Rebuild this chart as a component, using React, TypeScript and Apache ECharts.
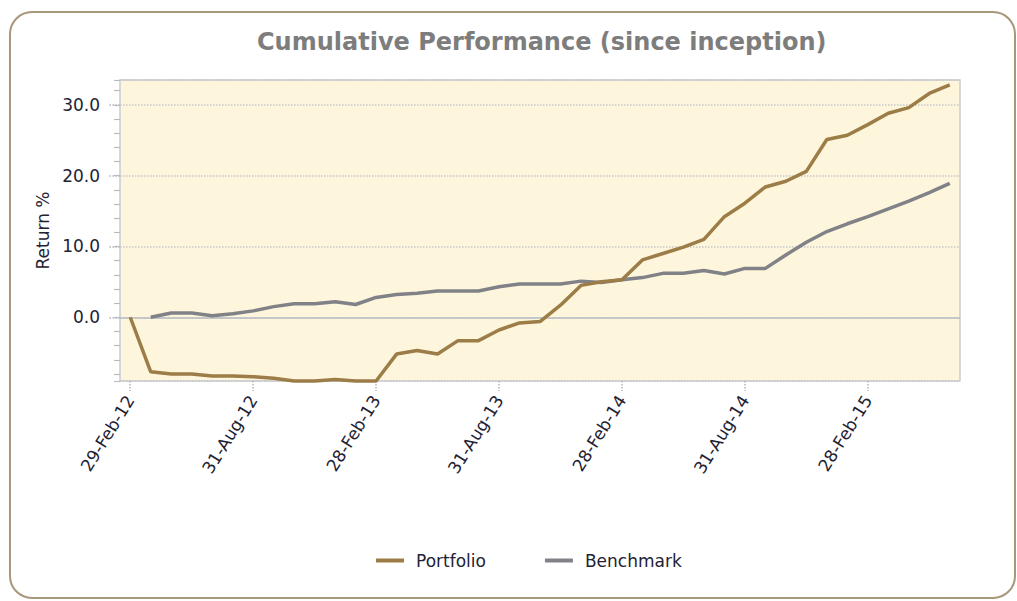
import React, { useEffect, useRef } from "react";
import * as echarts from "echarts";

const categories = [
  "29-Feb-12", "31-Mar-12", "30-Apr-12", "31-May-12", "30-Jun-12", "31-Jul-12", "31-Aug-12",
  "30-Sep-12", "31-Oct-12", "30-Nov-12", "31-Dec-12", "31-Jan-13", "28-Feb-13", "31-Mar-13",
  "30-Apr-13", "31-May-13", "30-Jun-13", "31-Jul-13", "31-Aug-13", "30-Sep-13", "31-Oct-13",
  "30-Nov-13", "31-Dec-13", "31-Jan-14", "28-Feb-14", "31-Mar-14", "30-Apr-14", "31-May-14",
  "30-Jun-14", "31-Jul-14", "31-Aug-14", "30-Sep-14", "31-Oct-14", "30-Nov-14", "31-Dec-14",
  "31-Jan-15", "28-Feb-15", "31-Mar-15", "30-Apr-15", "31-May-15", "30-Jun-15",
];

const portfolio = [
  0, -7.7, -8.0, -8.0, -8.3, -8.3, -8.4, -8.6, -9.0, -9.0, -8.8, -9.0, -9.0, -5.2, -4.7,
  -5.2, -3.3, -3.3, -1.8, -0.8, -0.6, 1.7, 4.5, 5.0, 5.3, 8.1, 9.0, 9.9, 11.0, 14.2, 16.1,
  18.4, 19.2, 20.6, 25.1, 25.7, 27.2, 28.8, 29.6, 31.6, 32.8,
];

const benchmark = [
  null, 0.0, 0.6, 0.6, 0.2, 0.5, 0.9, 1.5, 1.9, 1.9, 2.2, 1.8, 2.8, 3.2, 3.4, 3.7, 3.7,
  3.7, 4.3, 4.7, 4.7, 4.7, 5.1, 4.9, 5.3, 5.6, 6.2, 6.2, 6.6, 6.1, 6.9, 6.9, 8.8, 10.6,
  12.1, 13.2, 14.2, 15.3, 16.4, 17.6, 18.9,
];

const seriesNames = ["Portfolio", "Benchmark"];
const zeroLine = [0];
const yMin = -9;
const yMax = 33.5;

const FONT = "DejaVu Sans";
const LABEL_COLOR = "#222233";

export default function App() {
  const ref = useRef<HTMLDivElement>(null);

  useEffect(() => {
    if (!ref.current) return;
    const chart = echarts.init(ref.current, null, { renderer: "svg" });
    const option: any = {
      animation: false,
      backgroundColor: "#ffffff",
      title: {
        text: "Cumulative Performance (since inception)",
        left: 252,
        top: 25,
        textStyle: { fontFamily: FONT, fontSize: 24, fontWeight: "bold", color: "#7d7d7d" },
      },
      graphic: [
        {
          type: "rect",
          shape: { x: 10, y: 12, width: 1005, height: 586, r: 22 },
          style: { fill: "none", stroke: "#a8977a", lineWidth: 2 },
          silent: true,
          z: -1,
        },
      ],
      legend: {
        data: seriesNames,
        left: 371,
        top: 547,
        icon: "rect",
        itemWidth: 28,
        itemHeight: 4,
        itemGap: 59,
        textStyle: { fontFamily: FONT, fontSize: 17, color: LABEL_COLOR, padding: [0, 0, 0, 7] },
      },
      grid: {
        left: 120,
        top: 80,
        right: 57,
        bottom: 220,
        show: true,
        backgroundColor: "#fef6dc",
        borderColor: "#c8ccd2",
        borderWidth: 1.5,
        containLabel: false,
        outerBoundsMode: "none",
      },
      xAxis: {
        type: "category",
        data: categories,
        boundaryGap: true,
        axisLine: { show: false, onZero: false },
        axisTick: {
          show: true,
          interval: 5,
          alignWithLabel: true,
          length: 10,
          lineStyle: { color: "#b5b5b5", type: "dotted", width: 1.5 },
        },
        axisLabel: {
          interval: 5,
          rotate: 58,
          margin: 16,
          fontFamily: FONT,
          fontSize: 17,
          color: LABEL_COLOR,
        },
        splitLine: { show: false },
      },
      yAxis: [
        {
          type: "value",
          min: yMin,
          max: yMax,
          splitNumber: 5,
          name: "Return %",
          nameLocation: "middle",
          nameGap: 68,
          nameTextStyle: { fontFamily: FONT, fontSize: 17, color: LABEL_COLOR },
          axisLine: { show: false },
          axisTick: { show: true, length: 12, lineStyle: { color: "#b5b5b5", type: "dotted", width: 1.5 } },
          axisLabel: {
            margin: 20,
            fontFamily: FONT,
            fontSize: 17,
            color: LABEL_COLOR,
            showMinLabel: false,
            showMaxLabel: false,
            formatter: (v: number) => (Math.abs(v % 10) < 1e-9 ? v.toFixed(1) : ""),
          },
          splitLine: { show: true, lineStyle: { color: "#c6c6c6", type: "dotted", width: 1.5 } },
        },
        {
          type: "value",
          min: yMin,
          max: yMax,
          splitNumber: 20,
          position: "left",
          axisLine: { show: false },
          axisTick: { show: true, length: 6, lineStyle: { color: "#b8bcc2", width: 1.2 } },
          axisLabel: { show: false },
          splitLine: { show: false },
        },
      ],
      series: [
        {
          name: seriesNames[0],
          type: "line",
          data: portfolio,
          symbol: "none",
          clip: false,
          color: "#9c7c47",
          lineStyle: { width: 3.5, color: "#9c7c47" },
          z: 3,
          markLine: {
            silent: true,
            symbol: "none",
            label: { show: false },
            lineStyle: { color: "#b7bec6", type: "solid", width: 1.5 },
            data: zeroLine.map((v) => ({ yAxis: v })),
            z: 1,
          },
        },
        {
          name: seriesNames[1],
          type: "line",
          data: benchmark,
          symbol: "none",
          clip: false,
          color: "#808287",
          lineStyle: { width: 3.5, color: "#808287" },
          z: 2,
        },
      ],
    };
    chart.setOption(option);
    return () => chart.dispose();
  }, []);

  return (
    <div
      ref={ref}
      style={{ position: "absolute", left: 0, top: 0, width: 1017, height: 601 }}
    />
  );
}
